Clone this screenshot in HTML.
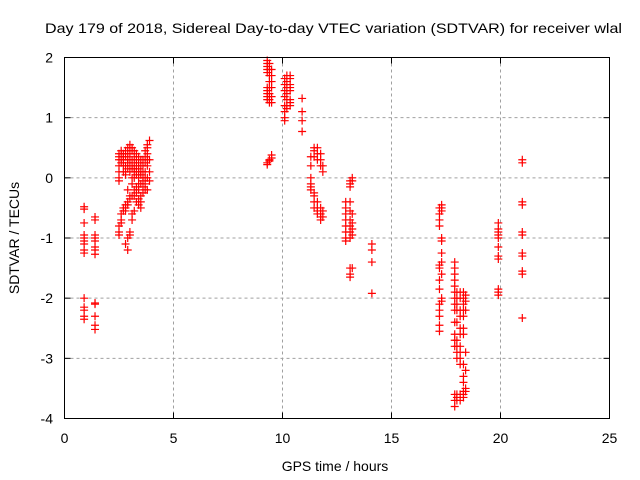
<!DOCTYPE html>
<html><head><meta charset="utf-8"><style>
body{margin:0;background:#fff;}
svg{display:block;font-family:"Liberation Sans",sans-serif;}
</style></head><body>
<svg id="chart" width="640" height="480">
<text x="333.5" y="33" font-size="14" text-anchor="middle" fill="#000" textLength="577" lengthAdjust="spacingAndGlyphs">Day 179 of 2018, Sidereal Day-to-day VTEC variation (SDTVAR) for receiver wlal</text>
<text x="335" y="471" font-size="14" text-anchor="middle">GPS time / hours</text>
<text x="0" y="0" font-size="14" text-anchor="middle" transform="translate(19,238) rotate(-90)">SDTVAR / TECUs</text>
<g id="grid"></g><g id="ticks"></g><g id="pts"></g>
<rect x="64.5" y="57.5" width="545" height="361" fill="none" stroke="#000" stroke-width="1"/>
</svg>
<script>
const xTicks=[0,5,10,15,20,25];
const yTicks=[2,1,0,-1,-2,-3,-4];
// columns: [time, [values...]]
const columns=[
[0.9,[-0.48,-0.52,-0.75,-0.95,-1.0,-1.05,-1.1,-1.2,-1.25,-2.0,-2.15,-2.2,-2.3,-2.35]],
[1.4,[-0.65,-0.7,-0.95,-1.0,-1.05,-1.15,-1.2,-1.27,-2.08,-2.1,-2.3,-2.45,-2.52]],
[2.5,[0.4,0.35,0.3,0.2,0.1,0.0,-0.05,-0.8,-0.9,-0.95]],
[2.6,[0.45,0.4,0.3,0.25,-0.6,-0.7,-0.75]],
[2.7,[0.4,0.35,0.3,0.2,0.1,-0.5,-0.55]],
[2.8,[0.45,0.35,0.2,0.1,0.05,-0.45,-0.5,-0.55,-1.1]],
[2.9,[0.5,0.4,0.3,0.25,0.15,-0.2,-0.4,-0.45,-1.0,-1.2]],
[3.0,[0.55,0.5,0.4,0.3,0.2,0.1,-0.3,-0.35,-0.9,-0.95]],
[3.1,[0.5,0.45,0.3,0.2,0.15,0.0,-0.1,-0.3,-0.6,-0.7]],
[3.2,[0.45,0.35,0.25,0.15,0.1,0.0,-0.2,-0.3,-0.55]],
[3.3,[0.4,0.3,0.2,0.1,0.05,-0.15,-0.25,-0.4]],
[3.4,[0.35,0.25,0.15,0.1,0.0,-0.1,-0.2,-0.35,-0.45]],
[3.5,[0.3,0.2,0.1,0.05,-0.1,-0.3,-0.4,-0.5]],
[3.6,[0.3,0.2,0.1,0.0,-0.05,-0.15,-0.25]],
[3.7,[0.45,0.35,0.25,0.1,0.0,-0.1,-0.2]],
[3.8,[0.55,0.5,0.4,0.3,0.2,0.0,-0.2]],
[3.9,[0.62,0.3,0.1,-0.05]],
[9.3,[1.95,1.9,1.85,1.8,1.75,1.5,1.45,1.4,1.35,1.3,0.25,0.22]],
[9.4,[1.9,1.8,1.7,1.6,1.5,1.4,1.3,1.25,0.3,0.28]],
[9.5,[1.8,1.7,1.6,1.5,1.35,1.25,0.38,0.33]],
[10.1,[1.65,1.55,1.45,1.35,1.2,1.1,1.0,0.95]],
[10.2,[1.7,1.6,1.5,1.4,1.3,1.2,1.15]],
[10.35,[1.7,1.65,1.55,1.5,1.45,1.3,1.25,1.2]],
[10.9,[1.32,1.1,0.95,0.77]],
[11.3,[0.35,0.2,0.0,-0.1,-0.15,-0.2]],
[11.45,[0.5,0.45,0.35,-0.25,-0.3,-0.4,-0.5]],
[11.6,[0.5,0.4,0.3,-0.4,-0.5,-0.55,-0.6]],
[11.75,[0.4,0.3,0.2,-0.5,-0.6,-0.65,-0.7]],
[11.85,[0.2,0.1,-0.55,-0.65]],
[12.9,[-0.4,-0.5,-0.6,-0.7,-0.8,-0.9,-1.0,-1.05]],
[13.1,[-0.05,-0.1,-0.15,-0.4,-0.55,-0.7,-0.8,-0.9,-1.0,-1.5,-1.6,-1.65]],
[13.2,[0.0,-0.05,-0.6,-0.75,-0.85,-0.95,-1.5]],
[14.1,[-1.1,-1.2,-1.4,-1.92]],
[17.2,[-0.5,-0.6,-0.7,-0.8,-1.45,-1.5,-1.7,-1.85,-2.1,-2.2,-2.3,-2.45,-2.55]],
[17.3,[-0.45,-0.5,-0.55,-1.0,-1.05,-1.25,-1.4,-1.6,-2.0,-2.05]],
[17.9,[-1.4,-1.5,-1.6,-1.7,-1.8,-1.9,-2.0,-2.1,-2.2,-2.4,-2.6,-2.7,-2.8,-3.6,-3.7,-3.8]],
[18.0,[-1.9,-2.0,-2.1,-2.2,-2.4,-2.7,-2.8,-2.9,-3.0,-3.6,-3.65,-3.7]],
[18.15,[-1.9,-2.0,-2.2,-2.3,-2.5,-2.6,-2.8,-2.9,-3.0,-3.1,-3.6,-3.7]],
[18.3,[-1.9,-2.0,-2.1,-2.2,-2.3,-2.5,-2.6,-3.1,-3.3,-3.4,-3.55,-3.6,-3.65]],
[18.4,[-1.95,-2.05,-2.2,-2.9,-3.2,-3.5,-3.55]],
[19.9,[-0.75,-0.85,-0.9,-0.95,-1.0,-1.15,-1.3,-1.35,-1.85,-1.9,-1.95]],
[21.0,[0.3,0.25,-0.4,-0.45,-0.9,-0.95,-1.25,-1.3,-1.55,-1.6,-2.33]]
];
const X0=64.5,X1=609.5,Y0=418.5,Y1=57.5;
const xs=t=>X0+(t-0)/(25-0)*(X1-X0);
const ys=v=>Y0-(v+4)/(2+4)*(Y0-Y1);
const NS="http://www.w3.org/2000/svg";
const grid=document.getElementById('grid'),ticks=document.getElementById('ticks'),pts=document.getElementById('pts');
function mk(tag,attrs,parent){const e=document.createElementNS(NS,tag);for(const k in attrs)e.setAttribute(k,attrs[k]);parent.appendChild(e);return e;}
xTicks.forEach(t=>{const x=xs(t);
 if(t>0&&t<25){const g=mk('line',{x1:x,x2:x,y1:Y1,y2:Y0,stroke:'#a0a0a0','stroke-dasharray':'3,3'},grid);
 
 }
 mk('line',{x1:x,x2:x,y1:Y0,y2:Y0-6,stroke:'#000'},ticks);mk('line',{x1:x,x2:x,y1:Y1,y2:Y1+6,stroke:'#000'},ticks);
 const l=mk('text',{x:x,y:443,'font-size':14,'text-anchor':'middle'},ticks);l.textContent=t;
 
 });
yTicks.forEach(v=>{const y=ys(v);
 if(v>-4&&v<2){const g=mk('line',{x1:X0,x2:X1,y1:y,y2:y,stroke:'#a0a0a0','stroke-dasharray':'3,3'},grid);
 
 }
 mk('line',{x1:X0,x2:X0+6,y1:y,y2:y,stroke:'#000'},ticks);mk('line',{x1:X1,x2:X1-6,y1:y,y2:y,stroke:'#000'},ticks);
 const l=mk('text',{x:53,y:y+5,'font-size':14,'text-anchor':'end'},ticks);l.textContent=v;
 
 });
columns.forEach(c=>{const t=c[0];c[1].forEach(v=>{const x=xs(t),y=ys(v);
 const p=mk('path',{d:`M${x-4},${y}H${x+4}M${x},${y-4}V${y+4}`,stroke:'#ff0000','stroke-width':1.2,fill:'none'},pts);
 
 });});
</script>
</body></html>
